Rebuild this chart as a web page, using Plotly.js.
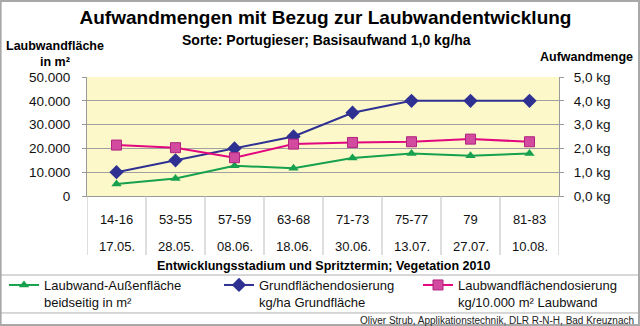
<!DOCTYPE html>
<html>
<head>
<meta charset="utf-8">
<script src="https://cdn.plot.ly/plotly-3.0.1.min.js"></script>
<style>
html,body{margin:0;padding:0;background:#fff;}
#chart{width:640px;height:326px;}
</style>
</head>
<body>
<div id="chart"></div>
<script>
// ---- data ----
const stages = ['14-16','53-55','57-59','63-68','71-73','75-77','79','81-83'];
const dates = ['17.05.','28.05.','08.06.','18.06.','30.06.','13.07.','27.07.','10.08.'];
const laubwandFlaeche = [5000, 7400, 12700, 11700, 16000, 17900, 16900, 17900];   // m², left axis
const grundDosierung = [1.0, 1.5, 2.0, 2.5, 3.5, 4.0, 4.0, 4.0];                 // kg, right axis
const laubDosierung = [2.14, 2.03, 1.61, 2.18, 2.25, 2.28, 2.39, 2.28];          // kg, right axis
const seriesNames = [
  'Laubwand-Außenfläche<br>beidseitig in m²',
  'Grundflächendosierung<br>kg/ha Grundfläche',
  'Laubwandflächendosierung<br>kg/10.000 m² Laubwand'
];

const FONT = 'Liberation Sans, Arial, sans-serif';
const GREEN = '#17A04E', BLUE = '#2E3192', PINK = '#E2067F';

const traces = [
  {x: stages, y: laubwandFlaeche, name: seriesNames[0], type: 'scatter', mode: 'lines+markers', legend: 'legend',
   line: {color: GREEN, width: 2}, marker: {symbol: 'triangle-up', size: 9, color: GREEN}, yaxis: 'y'},
  {x: stages, y: grundDosierung, name: seriesNames[1], type: 'scatter', mode: 'lines+markers', legend: 'legend2',
   line: {color: BLUE, width: 2}, marker: {symbol: 'diamond', size: 11, color: BLUE}, yaxis: 'y2'},
  {x: stages, y: laubDosierung, name: seriesNames[2], type: 'scatter', mode: 'lines+markers', legend: 'legend3',
   line: {color: PINK, width: 2}, marker: {symbol: 'square', size: 10, color: '#D24B9F', line: {color: '#B0237F', width: 1}}, yaxis: 'y2'}
];

const shapes = [];
// category separators below plot
for (let i = 0; i <= stages.length; i++) {
  shapes.push({type: 'line', xref: 'x', yref: 'paper', x0: i - 0.5, x1: i - 0.5, y0: 0, y1: -0.496,
               line: {color: '#BDBDBD', width: 1}});
}
// horizontal separators & frame
shapes.push({type: 'line', xref: 'paper', yref: 'paper', x0: -0.185, x1: 1.172, y0: -0.664, y1: -0.664, line: {color: '#B0B0B0', width: 1}});
shapes.push({type: 'line', xref: 'paper', yref: 'paper', x0: -0.185, x1: 1.172, y0: -0.983, y1: -0.983, line: {color: '#B0B0B0', width: 1}});
shapes.push({type: 'rect', xref: 'paper', yref: 'paper', x0: -0.183, x1: 1.1695, y0: -1.084, y1: 1.6387, line: {color: '#A8A8A8', width: 2}});

const annotations = [
  {text: 'Sorte: Portugieser; Basisaufwand 1,0 kg/ha', xref: 'paper', yref: 'paper', x: (326-87)/472, y: (196-40)/119,
   xanchor: 'center', yanchor: 'middle', showarrow: false, font: {family: FONT, size: 14, color: '#000', weight: 'bold'}},
  {text: 'Laubwandfläche<br>in m²', xref: 'paper', yref: 'paper', x: (55-87)/472, y: (196-53.5)/119,
   xanchor: 'center', yanchor: 'middle', align: 'center', showarrow: false, font: {family: FONT, size: 12.5, color: '#000', weight: 'bold'}},
  {text: 'Aufwandmenge', xref: 'paper', yref: 'paper', x: (586-87)/472, y: (196-57)/119,
   xanchor: 'center', yanchor: 'middle', showarrow: false, font: {family: FONT, size: 12.5, color: '#000', weight: 'bold'}},
  {text: 'Entwicklungsstadium und Spritztermin; Vegetation 2010', xref: 'paper', yref: 'paper', x: 0.5, y: (196-266)/119,
   xanchor: 'center', yanchor: 'middle', showarrow: false, font: {family: FONT, size: 12.5, color: '#000', weight: 'bold'}},
  {text: 'Oliver Strub, Applikationstechnik, DLR R-N-H, Bad Kreuznach', xref: 'paper', yref: 'paper', x: (636-87)/472, y: (196-320)/119,
   xanchor: 'right', yanchor: 'middle', showarrow: false, font: {family: FONT, size: 10, color: '#222'}}
];
// second row of category labels (dates), placed by category index on the x axis
dates.forEach((d, i) => {
  annotations.push({text: d, xref: 'x', yref: 'paper', x: i, y: (196-246)/119,
    xanchor: 'center', yanchor: 'middle', showarrow: false, font: {family: FONT, size: 13, color: '#111'}});
});

const legendBase = {orientation: 'h', y: -0.622, xanchor: 'left', yanchor: 'top', valign: 'top',
  font: {family: FONT, size: 13, color: '#111'}, bgcolor: 'rgba(0,0,0,0)'};

const layout = {
  width: 640, height: 326,
  margin: {l: 87, r: 81, t: 77, b: 130, autoexpand: false},
  paper_bgcolor: '#ffffff',
  plot_bgcolor: '#FDF8C9',
  separators: ',.',
  font: {family: FONT, color: '#000'},
  title: {text: 'Aufwandmengen mit Bezug zur Laubwandentwicklung', x: (325.5)/640, xref: 'container', xanchor: 'center',
          y: 1 - 17/326, yanchor: 'middle', font: {family: FONT, size: 19, color: '#000', weight: 'bold'}},
  showlegend: true,
  legend: Object.assign({}, legendBase, {x: (4-87)/472}),
  legend2: Object.assign({}, legendBase, {x: (219-87)/472}),
  legend3: Object.assign({}, legendBase, {x: (418-87)/472}),
  xaxis: {type: 'category', range: [-0.5, stages.length - 0.5], showgrid: false, zeroline: false,
          showline: true, linecolor: '#9A9A9A', linewidth: 1, ticks: '', ticklabelstandoff: 11,
          tickfont: {family: FONT, size: 13, color: '#111'}, fixedrange: true},
  yaxis: {range: [0, 50000], dtick: 10000, tickformat: ',d', showgrid: true, gridcolor: '#A0A0A0', gridwidth: 1,
          zeroline: false, showline: true, linecolor: '#9A9A9A', mirror: true, ticks: 'outside', ticklen: 4, tickcolor: '#9A9A9A',
          ticklabelstandoff: 9, tickfont: {family: FONT, size: 13.5, color: '#111'}},
  yaxis2: {range: [0, 5], dtick: 1, tickformat: '.1f', ticksuffix: ' kg', overlaying: 'y', side: 'right',
           showgrid: false, zeroline: false, showline: false, ticks: 'outside', ticklen: 4, tickcolor: '#9A9A9A',
           ticklabelstandoff: 7, tickfont: {family: FONT, size: 13.5, color: '#111'}},
  shapes: shapes,
  annotations: annotations
};

Plotly.newPlot('chart', traces, layout, {staticPlot: true, displayModeBar: false});
</script>
</body>
</html>
